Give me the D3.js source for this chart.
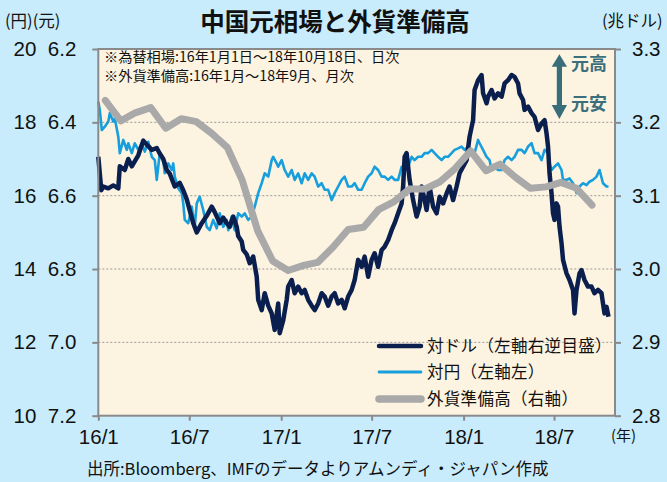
<!DOCTYPE html>
<html><head><meta charset="utf-8">
<script src="https://cdn.jsdelivr.net/npm/d3@7"></script>
<style>
body{margin:0;background:#c8ecfb}
svg{display:block}
text{font-family:"Liberation Sans","Noto Sans CJK JP",sans-serif}
.jp{font-family:"Noto Sans CJK JP","Liberation Sans",sans-serif}
</style></head>
<body><svg id="c" width="667" height="482"></svg>
<script>
// ---- data ----
const xTickDates = ["2016-01-01","2016-07-01","2017-01-01","2017-07-01","2018-01-01","2018-07-01"];
const xTickLabels = ["16/1","16/7","17/1","17/7","18/1","18/7"];
const yenTicks = [10,12,14,16,18,20];
const cnyTicks = [7.2,7.0,6.8,6.6,6.4,6.2];
const resTicks = [2.8,2.9,3.0,3.1,3.2,3.3];

// 対ドル (CNY per USD), left axis reversed
const cnyUsd = [["2016-01-01",6.494],["2016-01-07",6.585],["2016-01-11",6.575],["2016-01-21",6.58],["2016-01-31",6.572],["2016-02-10",6.58],["2016-02-13",6.52],["2016-02-23",6.53],["2016-03-01",6.50],["2016-03-08",6.52],["2016-03-21",6.49],["2016-03-31",6.45],["2016-04-10",6.465],["2016-04-17",6.475],["2016-04-27",6.47],["2016-05-03",6.485],["2016-05-10",6.50],["2016-05-17",6.53],["2016-05-23",6.54],["2016-06-02",6.575],["2016-06-12",6.565],["2016-06-19",6.585],["2016-06-26",6.61],["2016-07-02",6.64],["2016-07-09",6.675],["2016-07-16",6.70],["2016-07-26",6.675],["2016-08-05",6.655],["2016-08-15",6.63],["2016-08-21",6.645],["2016-08-31",6.675],["2016-09-07",6.66],["2016-09-14",6.675],["2016-09-20",6.685],["2016-09-27",6.657],["2016-10-04",6.685],["2016-10-07",6.71],["2016-10-14",6.725],["2016-10-17",6.748],["2016-10-24",6.76],["2016-10-30",6.784],["2016-11-06",6.766],["2016-11-13",6.821],["2016-11-16",6.884],["2016-11-23",6.912],["2016-11-29",6.866],["2016-12-06",6.90],["2016-12-13",6.921],["2016-12-19",6.966],["2016-12-26",6.894],["2016-12-29",6.975],["2017-01-05",6.94],["2017-01-12",6.884],["2017-01-15",6.848],["2017-01-22",6.83],["2017-01-28",6.866],["2017-02-04",6.848],["2017-02-11",6.866],["2017-02-17",6.857],["2017-02-24",6.884],["2017-03-03",6.90],["2017-03-09",6.912],["2017-03-16",6.894],["2017-03-23",6.866],["2017-03-29",6.875],["2017-04-05",6.90],["2017-04-12",6.875],["2017-04-18",6.866],["2017-04-25",6.894],["2017-05-02",6.884],["2017-05-08",6.907],["2017-05-15",6.875],["2017-05-22",6.857],["2017-05-28",6.83],["2017-06-04",6.775],["2017-06-11",6.794],["2017-06-17",6.766],["2017-06-24",6.821],["2017-07-01",6.775],["2017-07-07",6.757],["2017-07-14",6.794],["2017-07-21",6.748],["2017-07-27",6.739],["2017-08-03",6.721],["2017-08-10",6.694],["2017-08-16",6.675],["2017-08-23",6.648],["2017-08-30",6.621],["2017-09-02",6.575],["2017-09-05",6.494],["2017-09-09",6.484],["2017-09-15",6.557],["2017-09-22",6.612],["2017-09-29",6.657],["2017-10-05",6.63],["2017-10-09",6.575],["2017-10-15",6.612],["2017-10-19",6.639],["2017-10-25",6.575],["2017-11-01",6.63],["2017-11-08",6.648],["2017-11-14",6.603],["2017-11-21",6.621],["2017-11-28",6.594],["2017-12-04",6.575],["2017-12-11",6.612],["2017-12-18",6.575],["2017-12-24",6.539],["2017-12-31",6.521],["2018-01-07",6.503],["2018-01-13",6.439],["2018-01-20",6.394],["2018-01-23",6.312],["2018-01-30",6.285],["2018-02-06",6.271],["2018-02-09",6.321],["2018-02-16",6.348],["2018-02-19",6.33],["2018-02-26",6.312],["2018-03-04",6.335],["2018-03-11",6.321],["2018-03-18",6.33],["2018-03-24",6.294],["2018-03-31",6.285],["2018-04-07",6.271],["2018-04-13",6.276],["2018-04-20",6.294],["2018-04-23",6.321],["2018-04-30",6.339],["2018-05-03",6.366],["2018-05-10",6.357],["2018-05-17",6.375],["2018-05-23",6.385],["2018-05-30",6.421],["2018-06-06",6.403],["2018-06-12",6.394],["2018-06-16",6.43],["2018-06-19",6.466],["2018-06-22",6.539],["2018-06-26",6.594],["2018-06-29",6.648],["2018-07-02",6.666],["2018-07-06",6.621],["2018-07-09",6.63],["2018-07-12",6.685],["2018-07-16",6.73],["2018-07-19",6.775],["2018-07-26",6.812],["2018-08-01",6.83],["2018-08-08",6.857],["2018-08-11",6.921],["2018-08-15",6.857],["2018-08-21",6.812],["2018-08-25",6.803],["2018-08-31",6.83],["2018-09-07",6.848],["2018-09-14",6.848],["2018-09-20",6.866],["2018-09-27",6.857],["2018-10-04",6.866],["2018-10-07",6.894],["2018-10-10",6.921],["2018-10-14",6.903],["2018-10-18",6.93]];

// 対円 (JPY per CNY), left axis
const jpyCny = [["2016-01-01",18.56],["2016-01-04",18.34],["2016-01-08",17.79],["2016-01-14",17.88],["2016-01-21",18.02],["2016-01-24",18.25],["2016-01-31",18.02],["2016-02-03",18.11],["2016-02-10",17.61],["2016-02-13",17.16],["2016-02-20",17.52],["2016-02-27",17.25],["2016-03-01",17.43],["2016-03-08",17.16],["2016-03-14",17.43],["2016-03-21",17.25],["2016-03-28",17.43],["2016-04-03",17.2],["2016-04-10",17.47],["2016-04-17",17.06],["2016-04-23",16.97],["2016-04-27",16.43],["2016-05-03",17.16],["2016-05-10",16.97],["2016-05-13",16.61],["2016-05-20",16.88],["2016-05-27",16.7],["2016-05-30",16.88],["2016-06-02",16.52],["2016-06-09",16.2],["2016-06-16",16.07],["2016-06-19",15.79],["2016-06-22",15.34],["2016-06-29",15.25],["2016-07-06",15.7],["2016-07-12",15.15],["2016-07-16",15.79],["2016-07-22",15.97],["2016-07-29",15.61],["2016-08-05",15.15],["2016-08-11",15.06],["2016-08-18",15.34],["2016-08-25",15.11],["2016-08-31",15.52],["2016-09-07",15.15],["2016-09-14",15.34],["2016-09-17",15.06],["2016-09-24",15.43],["2016-09-30",15.06],["2016-10-07",15.52],["2016-10-14",15.43],["2016-10-20",15.52],["2016-10-27",15.34],["2016-11-03",15.43],["2016-11-09",15.7],["2016-11-16",16.07],["2016-11-23",16.34],["2016-11-29",16.61],["2016-12-06",16.52],["2016-12-13",16.97],["2016-12-16",17.06],["2016-12-23",16.88],["2016-12-26",16.79],["2017-01-02",16.97],["2017-01-08",16.7],["2017-01-15",16.52],["2017-01-22",16.7],["2017-01-28",16.43],["2017-02-04",16.61],["2017-02-11",16.34],["2017-02-17",16.61],["2017-02-24",16.43],["2017-03-03",16.61],["2017-03-09",16.52],["2017-03-16",16.25],["2017-03-23",16.34],["2017-03-29",16.16],["2017-04-05",16.16],["2017-04-12",15.88],["2017-04-18",16.07],["2017-04-25",16.25],["2017-05-02",16.43],["2017-05-08",16.52],["2017-05-15",16.25],["2017-05-22",16.25],["2017-05-28",16.34],["2017-06-04",16.16],["2017-06-11",16.16],["2017-06-17",16.34],["2017-06-24",16.52],["2017-07-01",16.61],["2017-07-07",16.79],["2017-07-14",16.7],["2017-07-21",16.52],["2017-07-27",16.52],["2017-08-03",16.43],["2017-08-10",16.52],["2017-08-16",16.43],["2017-08-23",16.43],["2017-08-30",16.79],["2017-09-05",16.7],["2017-09-12",16.79],["2017-09-19",17.06],["2017-09-25",16.97],["2017-10-02",17.06],["2017-10-09",17.06],["2017-10-15",17.16],["2017-10-22",17.16],["2017-10-29",17.25],["2017-11-04",17.16],["2017-11-11",17.06],["2017-11-18",16.97],["2017-11-24",17.06],["2017-12-01",17.06],["2017-12-08",17.16],["2017-12-14",17.25],["2017-12-21",17.29],["2017-12-28",17.34],["2018-01-03",17.25],["2018-01-10",17.34],["2018-01-17",17.25],["2018-01-23",17.16],["2018-01-30",17.52],["2018-02-02",17.43],["2018-02-09",17.25],["2018-02-16",17.06],["2018-02-22",16.97],["2018-02-26",16.7],["2018-03-04",16.79],["2018-03-11",16.7],["2018-03-18",16.7],["2018-03-24",16.97],["2018-03-31",17.06],["2018-04-07",16.97],["2018-04-13",17.06],["2018-04-20",17.25],["2018-04-27",17.25],["2018-05-03",17.16],["2018-05-10",17.34],["2018-05-17",17.43],["2018-05-23",17.16],["2018-05-30",17.16],["2018-06-06",16.97],["2018-06-12",17.25],["2018-06-19",17.16],["2018-06-22",16.88],["2018-06-26",16.7],["2018-07-02",16.79],["2018-07-09",16.88],["2018-07-16",16.7],["2018-07-19",16.43],["2018-07-26",16.43],["2018-08-01",16.47],["2018-08-08",16.34],["2018-08-15",16.07],["2018-08-21",16.25],["2018-08-28",16.34],["2018-09-04",16.29],["2018-09-10",16.38],["2018-09-17",16.43],["2018-09-24",16.52],["2018-09-30",16.7],["2018-10-07",16.34],["2018-10-14",16.25],["2018-10-18",16.25]];

// 外貨準備高 (trillion USD), right axis, monthly
const reserveMonths = ["2016-01","2016-02","2016-03","2016-04","2016-05","2016-06","2016-07","2016-08","2016-09","2016-10","2016-11","2016-12","2017-01","2017-02","2017-03","2017-04","2017-05","2017-06","2017-07","2017-08","2017-09","2017-10","2017-11","2017-12","2018-01","2018-02","2018-03","2018-04","2018-05","2018-06","2018-07","2018-08","2018-09"];
const reserves = [3.230,3.202,3.213,3.220,3.192,3.205,3.201,3.185,3.166,3.121,3.052,3.011,2.998,3.005,3.009,3.030,3.054,3.057,3.081,3.092,3.109,3.109,3.119,3.137,3.161,3.134,3.143,3.125,3.110,3.112,3.118,3.110,3.087];

const seriesNames = ["対ドル（左軸右逆目盛）","対円（左軸左）","外貨準備高（右軸）"];
const colors = {usd:"#0b1f4f", jpy:"#169fdc", res:"#a9a9a9"};

// ---- chart ----
const svg = d3.select("#c");
const P = {l:98.3, r:615, t:49, b:415.7};
const pd = s => new Date(s + "T00:00:00Z");
const pm = s => new Date(s + "-15T00:00:00Z");

const x = d3.scaleUtc().domain([pd("2016-01-01"), pd("2018-10-31")]).range([P.l, P.r]);
const yJpy = d3.scaleLinear().domain([10,20]).range([P.b, P.t]);
const yUsd = d3.scaleLinear().domain([7.2,6.2]).range([P.b, P.t]);
const yRes = d3.scaleLinear().domain([2.8,3.3]).range([P.b, P.t]);

svg.append("rect").attr("width",667).attr("height",482).attr("fill","#c8ecfb");
svg.append("rect").attr("x",P.l).attr("y",P.t).attr("width",P.r-P.l).attr("height",P.b-P.t).attr("fill","#fcf3e1");

// grid
svg.append("g").selectAll("line").data(yenTicks.filter(v=>v>10&&v<20)).join("line")
  .attr("x1",P.l).attr("x2",P.r).attr("y1",d=>yJpy(d)).attr("y2",d=>yJpy(d))
  .attr("stroke","#9a9a9a").attr("stroke-width",1).attr("stroke-dasharray","2,2");

// title
svg.append("text").attr("class","jp").attr("x",335).attr("y",31).attr("text-anchor","middle")
  .attr("font-size",24.5).attr("font-weight","bold").attr("fill","#111").text("中国元相場と外貨準備高");
svg.append("text").attr("class","jp").attr("x",5).attr("y",27).attr("font-size",16.5).attr("fill","#111").text("(円)(元)");
svg.append("text").attr("class","jp").attr("x",602).attr("y",27).attr("font-size",16.5).attr("fill","#111").text("(兆ドル)");

// notes
const notes = ["※為替相場:16年1月1日～18年10月18日、日次","※外貨準備高:16年1月～18年9月、月次"];
svg.append("g").selectAll("text").data(notes).join("text").attr("class","jp")
  .attr("x",104).attr("y",(d,i)=>62+i*18.5).attr("font-size",14.2).attr("fill","#111").text(d=>d);

// lines
const lineJpy = d3.line().x(d=>x(pd(d[0]))).y(d=>yJpy(d[1]));
const lineUsd = d3.line().x(d=>x(pd(d[0]))).y(d=>yUsd(d[1]));
const resData = reserveMonths.map((m,i)=>[pm(m), reserves[i]]);
const lineRes = d3.line().x(d=>x(d[0])).y(d=>yRes(d[1]));

svg.append("path").datum(jpyCny).attr("d",lineJpy).attr("fill","none")
  .attr("stroke",colors.jpy).attr("stroke-width",2.6).attr("stroke-linejoin","round");
svg.append("path").datum(cnyUsd).attr("d",lineUsd).attr("fill","none")
  .attr("stroke",colors.usd).attr("stroke-width",4.5).attr("stroke-linejoin","round");
svg.append("path").datum(resData).attr("d",lineRes).attr("fill","none")
  .attr("stroke",colors.res).attr("stroke-width",7).attr("stroke-linejoin","round").attr("stroke-linecap","round");

// plot border
svg.append("rect").attr("x",P.l).attr("y",P.t).attr("width",P.r-P.l).attr("height",P.b-P.t)
  .attr("fill","none").attr("stroke","#8a8a8a").attr("stroke-width",2);

// axes
function styleAxis(g){
  g.select(".domain").remove();
  g.selectAll(".tick line").attr("stroke","#8a8a8a").attr("stroke-width",2);
  g.selectAll("text").attr("fill","#111").attr("font-size",20.5).attr("font-family","'Liberation Sans',sans-serif");
}
svg.append("g").attr("transform",`translate(${P.l},0)`)
  .call(d3.axisLeft(yJpy).tickValues(yenTicks).tickSize(6).tickPadding(56).tickFormat(d3.format("d")))
  .call(styleAxis);
svg.append("g").attr("transform",`translate(${P.l},0)`)
  .call(d3.axisLeft(yUsd).tickValues(cnyTicks).tickSize(0).tickPadding(22).tickFormat(d3.format(".1f")))
  .call(styleAxis);
svg.append("g").attr("transform",`translate(${P.r},0)`)
  .call(d3.axisRight(yRes).tickValues(resTicks).tickSize(6).tickPadding(11).tickFormat(d3.format(".1f")))
  .call(styleAxis);
svg.append("g").attr("transform",`translate(0,${P.b})`)
  .call(d3.axisBottom(x).tickValues(xTickDates.map(pd)).tickSize(5).tickPadding(9)
    .tickFormat((d,i)=>xTickLabels[i]))
  .call(styleAxis);
svg.append("text").attr("class","jp").attr("x",611).attr("y",441).attr("font-size",15).attr("fill","#111").text("(年)");

// arrow 元高 / 元安
const ac = "#3a6d7a";
svg.append("rect").attr("x",556.8).attr("y",64).attr("width",5.2).attr("height",43).attr("fill",ac);
svg.append("path").attr("d","M551.7,66.7 L559.4,54.3 L567,66.7 Z").attr("fill",ac);
svg.append("path").attr("d","M551.7,105 L559.4,119 L567,105 Z").attr("fill",ac);
svg.append("text").attr("class","jp").attr("x",571).attr("y",70).attr("font-size",18).attr("font-weight","bold").attr("fill","#3b6f7c").text("元高");
svg.append("text").attr("class","jp").attr("x",571).attr("y",110).attr("font-size",18).attr("font-weight","bold").attr("fill","#3b6f7c").text("元安");

// legend
const leg = [
  {name:seriesNames[0], c:colors.usd, w:4.5},
  {name:seriesNames[1], c:colors.jpy, w:2.8},
  {name:seriesNames[2], c:colors.res, w:7.5}];
const lg = svg.append("g").selectAll("g").data(leg).join("g")
  .attr("transform",(d,i)=>`translate(0,${[346,372,399][i]})`);
lg.append("line").attr("x1",379).attr("x2",421).attr("stroke",d=>d.c).attr("stroke-width",d=>d.w).attr("stroke-linecap","round");
lg.append("text").attr("class","jp").attr("x",427).attr("y",6).attr("font-size",16.5).attr("letter-spacing",0.3).attr("fill","#111").text(d=>d.name);

// source
svg.append("text").attr("class","jp").attr("x",87).attr("y",475).attr("font-size",16.5).attr("fill","#111")
  .text("出所:Bloomberg、IMFのデータよりアムンディ・ジャパン作成");
</script></body></html>
